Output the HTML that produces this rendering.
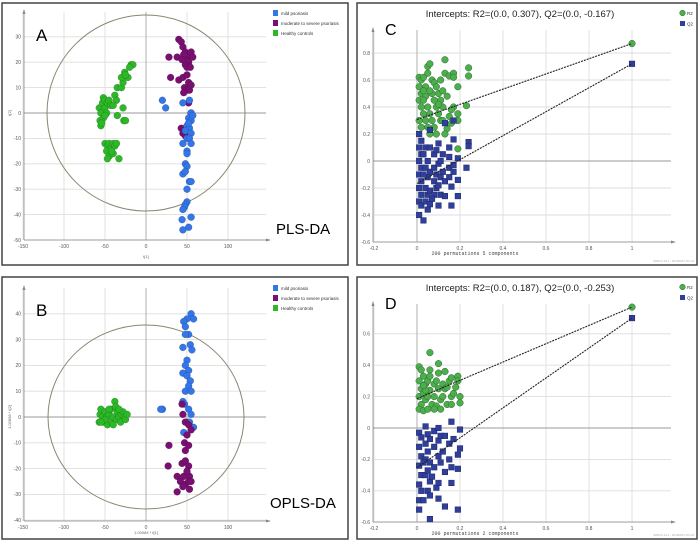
<!DOCTYPE html>
<html><head><meta charset="utf-8"><style>
body{margin:0;background:#fff;width:700px;height:548px;overflow:hidden}
svg{display:block;font-family:"Liberation Sans",sans-serif}
</style></head><body>
<svg id="s" width="700" height="548" viewBox="0 0 700 548"></svg>
<script>
// ===== data =====
const legendA = ["mild psoriasis","moderate to severe psoriasis","Healthy controls"];
const aGreen=[[-57,2],[-55,0],[-56,-3],[-55,-5],[-53,4],[-52,6],[-50,5],[-50,2],[-48,0],[-52,-2],[-54,-4],[-50,-1],[-47,4],[-45,5],[-43,3],[-38,7],[-36,5],[-40,3],[-35,-1],[-28,2],[-27,-3],[-25,-3],[-35,10],[-30,10],[-28,12],[-30,14],[-26,16],[-22,14],[-18,19],[-16,19],[-20,18],[-25,15],[-50,-12],[-47,-13],[-45,-12],[-43,-14],[-40,-12],[-38,-13],[-36,-12],[-48,-15],[-45,-17],[-40,-16],[-47,-18],[-33,-18],[-42,-15]];
const aPurple=[[40,29],[43,28],[45,26],[48,24],[50,22],[53,23],[55,24],[57,22],[52,20],[48,19],[50,18],[54,18],[28,22],[38,22],[30,14],[40,13],[45,14],[50,15],[52,12],[47,10],[50,9],[53,9],[55,11],[46,8],[52,4],[55,0],[43,-6],[45,-8],[48,-9],[46,23],[44,21]];
const aBlue=[[20,5],[24,2],[45,4],[53,5],[55,0],[52,-2],[55,-3],[50,-5],[53,-6],[48,-7],[55,-8],[50,-10],[53,-10],[55,-12],[45,-12],[50,-15],[50,-16],[48,-20],[50,-21],[45,-24],[48,-23],[53,-27],[55,-27],[50,-35],[48,-36],[47,-37],[45,-38],[44,-42],[55,-41],[52,-45],[45,-46],[50,-30],[57,-1],[52,-4]];
const bGreen=[[-57,-2],[-56,1],[-55,3],[-53,0],[-52,-2],[-50,2],[-48,0],[-47,-3],[-45,1],[-43,3],[-42,-2],[-40,0],[-38,6],[-37,4],[-36,-1],[-35,2],[-33,0],[-31,-2],[-30,1],[-28,2],[-26,0],[-25,-1],[-23,1],[-45,3],[-40,-3],[-50,-1],[-33,3],[-55,-2]];
const bBlue=[[55,40],[58,38],[50,38],[46,37],[48,35],[52,32],[48,32],[54,28],[45,27],[56,26],[50,22],[48,20],[52,18],[45,17],[50,16],[54,14],[52,12],[48,10],[55,10],[45,6],[47,5],[20,3],[18,3],[52,3],[55,1],[50,-2],[58,-4],[46,-6],[53,-2]];
const bPurple=[[44,5],[45,1],[48,-2],[52,-3],[55,-5],[50,-7],[47,-10],[52,-11],[28,-11],[48,-13],[44,-18],[48,-17],[52,-19],[27,-19],[50,-22],[53,-23],[46,-23],[38,-23],[42,-25],[48,-26],[52,-25],[55,-25],[45,-27],[38,-29],[50,-21],[53,-28]];
const cR2=[[0.01,0.62],[0.02,0.6],[0.03,0.62],[0.01,0.55],[0.02,0.5],[0.04,0.55],[0.05,0.65],[0.05,0.7],[0.06,0.72],[0.07,0.6],[0.08,0.58],[0.09,0.55],[0.1,0.5],[0.11,0.6],[0.12,0.52],[0.13,0.75],[0.13,0.65],[0.15,0.63],[0.17,0.65],[0.17,0.62],[0.19,0.55],[0.24,0.69],[0.24,0.63],[0.23,0.41],[0.19,0.35],[0.19,0.3],[0.17,0.4],[0.16,0.38],[0.15,0.33],[0.16,0.28],[0.14,0.24],[0.13,0.2],[0.19,0.09],[0.01,0.45],[0.02,0.4],[0.03,0.35],[0.01,0.3],[0.02,0.25],[0.04,0.48],[0.05,0.4],[0.06,0.35],[0.07,0.3],[0.05,0.25],[0.06,0.2],[0.08,0.45],[0.09,0.4],[0.1,0.35],[0.11,0.3],[0.08,0.25],[0.09,0.2],[0.11,0.45],[0.12,0.4],[0.03,0.52],[0.07,0.5],[0.1,0.42],[0.14,0.48],[0.12,0.3],[0.04,0.3],[0.03,0.45],[0.06,0.52],[1,0.87]];
const cQ2=[[0.01,0.2],[0.02,0.15],[0.01,0.1],[0.02,0.05],[0.01,0.0],[0.02,-0.05],[0.01,-0.1],[0.02,-0.15],[0.01,-0.2],[0.02,-0.25],[0.01,-0.3],[0.02,-0.33],[0.01,-0.4],[0.03,-0.44],[0.04,0.1],[0.04,-0.05],[0.04,-0.2],[0.04,-0.3],[0.05,0.0],[0.05,-0.12],[0.05,-0.25],[0.05,-0.36],[0.06,0.23],[0.06,0.1],[0.06,-0.08],[0.06,-0.22],[0.06,-0.32],[0.08,0.05],[0.08,-0.05],[0.08,-0.15],[0.08,-0.25],[0.09,0.08],[0.09,-0.1],[0.09,-0.2],[0.1,0.13],[0.1,-0.02],[0.1,-0.18],[0.1,-0.33],[0.11,0.0],[0.11,-0.12],[0.11,-0.25],[0.12,0.05],[0.12,-0.08],[0.13,0.28],[0.13,-0.15],[0.13,-0.26],[0.15,0.1],[0.15,0.03],[0.15,-0.05],[0.15,-0.12],[0.16,-0.19],[0.16,-0.33],[0.17,0.3],[0.17,0.16],[0.17,-0.03],[0.17,-0.08],[0.19,0.02],[0.19,-0.14],[0.19,-0.26],[0.23,-0.05],[0.24,0.14],[0.24,0.11],[0.03,0.05],[0.03,-0.1],[0.07,-0.28],[1,0.72]];
const dR2=[[0.01,0.39],[0.02,0.37],[0.01,0.3],[0.02,0.25],[0.01,0.2],[0.02,0.15],[0.01,0.12],[0.03,0.33],[0.03,0.22],[0.03,0.11],[0.04,0.28],[0.04,0.18],[0.05,0.3],[0.05,0.2],[0.05,0.12],[0.06,0.48],[0.06,0.37],[0.06,0.33],[0.06,0.24],[0.07,0.15],[0.08,0.28],[0.08,0.2],[0.09,0.3],[0.09,0.14],[0.1,0.41],[0.1,0.35],[0.1,0.25],[0.11,0.18],[0.11,0.12],[0.12,0.28],[0.12,0.2],[0.13,0.36],[0.13,0.25],[0.14,0.15],[0.15,0.3],[0.16,0.32],[0.16,0.2],[0.16,0.15],[0.17,0.22],[0.18,0.26],[0.19,0.33],[0.19,0.3],[0.2,0.2],[0.2,0.16],[0.04,0.24],[0.08,0.12],[0.03,0.27],[0.14,0.26],[1,0.77]];
const dQ2=[[0.01,-0.03],[0.02,-0.06],[0.01,-0.12],[0.02,-0.18],[0.01,-0.24],[0.02,-0.3],[0.01,-0.36],[0.02,-0.4],[0.01,-0.46],[0.01,-0.52],[0.03,-0.46],[0.04,0.01],[0.04,-0.1],[0.04,-0.2],[0.04,-0.3],[0.05,-0.04],[0.05,-0.15],[0.05,-0.27],[0.05,-0.4],[0.06,-0.07],[0.06,-0.22],[0.06,-0.34],[0.06,-0.58],[0.06,-0.43],[0.08,-0.02],[0.08,-0.12],[0.08,-0.25],[0.09,-0.38],[0.1,0.0],[0.1,-0.08],[0.1,-0.18],[0.1,-0.35],[0.1,-0.45],[0.11,-0.05],[0.11,-0.22],[0.12,-0.15],[0.13,-0.05],[0.13,-0.28],[0.13,-0.5],[0.15,-0.1],[0.15,-0.2],[0.16,0.04],[0.16,-0.25],[0.16,-0.35],[0.17,-0.07],[0.19,-0.17],[0.19,-0.26],[0.19,-0.52],[0.2,-0.01],[0.2,-0.13],[0.03,-0.22],[0.07,-0.31],[1,0.70]];
const cIntercepts=[0.307,-0.167];
const dIntercepts=[0.187,-0.253];
const pcaXTicks=[-150,-100,-50,0,50,100];
const aYTicks=[-50,-40,-30,-20,-10,0,10,20,30];
const bYTicks=[-40,-30,-20,-10,0,10,20,30,40];
const permXTicks=[-0.2,0,0.2,0.4,0.6,0.8,1];
const cYTicks=[-0.6,-0.4,-0.2,0,0.2,0.4,0.6,0.8];
const dYTicks=[-0.6,-0.4,-0.2,0,0.2,0.4,0.6];

const NS="http://www.w3.org/2000/svg";
const svg=document.getElementById('s');
function mk(tag,attrs,parent,text){const e=document.createElementNS(NS,tag);for(const k in attrs)e.setAttribute(k,attrs[k]);if(text!==undefined)e.textContent=text;(parent||svg).appendChild(e);return e;}

function panel(o){
  const g=mk('g',{});
  
  
  mk('rect',{x:o.bx,y:o.by,width:o.bw,height:o.bh,fill:'#fff',stroke:'#444','stroke-width':1.5},g);
  const X=v=>o.x0+(v-o.xv0)*o.xs, Y=v=>o.y0-(v-o.yv0)*o.ys;
  o.yt.forEach(t=>{mk('line',{x1:o.left,x2:o.right,y1:Y(t),y2:Y(t),stroke:'#dedede','stroke-width':0.9},g);
    const tl=mk('text',{x:o.left-3,y:Y(t)+1.8,'font-size':5,fill:'#555','text-anchor':'end'},g,String(t));
    });
  o.xt.forEach(t=>{mk('line',{x1:X(t),x2:X(t),y1:o.top,y2:o.bottom,stroke:'#dedede','stroke-width':0.9},g);
    const tl=mk('text',{x:X(t),y:o.bottom+8,'font-size':5,fill:'#555','text-anchor':'middle'},g,String(t));
    });
  mk('line',{x1:o.left,x2:o.right,y1:Y(0),y2:Y(0),stroke:'#999','stroke-width':1},g);
  mk('line',{x1:X(0),x2:X(0),y1:o.top,y2:o.bottom,stroke:'#aaa','stroke-width':0.9},g);
  mk('line',{x1:o.left,x2:o.left,y1:o.top-2,y2:o.bottom,stroke:'#888','stroke-width':0.8},g);
  mk('line',{x1:o.left,x2:o.right+3,y1:o.bottom,y2:o.bottom,stroke:'#888','stroke-width':0.8},g);
  mk('path',{d:`M${o.left-1.5},${o.top+2}L${o.left},${o.top-3}L${o.left+1.5},${o.top+2}Z`,fill:'#888'},g);
  mk('path',{d:`M${o.right},${o.bottom-1.5}L${o.right+5},${o.bottom}L${o.right},${o.bottom+1.5}Z`,fill:'#888'},g);
  return {g,X,Y};
}
function dots(p,data,color,r,shape,name){
  data.forEach(d=>{let e;
    if(shape==='sq') e=mk('rect',{x:p.X(d[0])-r,y:p.Y(d[1])-r,width:2*r,height:2*r,fill:color,stroke:'#1c2466','stroke-width':0.5},p.g);
    else e=mk('circle',{cx:p.X(d[0]),cy:p.Y(d[1]),r:r,fill:color,stroke:shape==='dk'?'#2d6a2d':'rgba(0,0,0,0.25)','stroke-width':0.5},p.g);
    
    });
}
function legend(g,x,y,items){
  items.forEach((it,i)=>{mk('rect',{x:x,y:y+i*10-3,width:5,height:6,fill:it[1]},g);
    const t=mk('text',{x:x+8,y:y+i*10+2,'font-size':4.5,fill:'#333'},g,it[0]);
    });
}
function legend2(g,x,y){
  mk('circle',{cx:x+2.5,cy:y,r:2.8,fill:'#4cae4c',stroke:'#2d6a2d','stroke-width':0.5},g);
  mk('rect',{x:x,y:y+8,width:5,height:5,fill:'#2f3f9c'},g);
  const t1=mk('text',{x:x+7,y:y+2,'font-size':4.5,fill:'#333'},g,'R2');
  
  const t2=mk('text',{x:x+7,y:y+12.5,'font-size':4.5,fill:'#333'},g,'Q2');
  
}
const BLUE='#3475e8',PURP='#7a0f72',GRN='#2cb827';

let pA=panel({name:'panel-a-pls-da',bx:2,by:3,bw:346,bh:262,x0:146,xv0:0,xs:0.82,y0:113,yv0:0,ys:2.54,left:24,right:266,top:12,bottom:240,xt:pcaXTicks,yt:aYTicks});
mk('ellipse',{cx:pA.X(0),cy:pA.Y(0),rx:99,ry:98,fill:'none',stroke:'#8a8670','stroke-width':1},pA.g);
dots(pA,aGreen,GRN,3.5,'c','healthy-point');dots(pA,aPurple,PURP,3.5,'c','moderate-point');dots(pA,aBlue,BLUE,3.5,'c','mild-point');
legend(pA.g,273,13,[[legendA[0],BLUE],[legendA[1],PURP],[legendA[2],GRN]]);
mk('text',{x:36,y:41,'font-size':17,fill:'#000'},pA.g,'A');
mk('text',{x:276,y:234,'font-size':15,fill:'#000'},pA.g,'PLS-DA');
mk('text',{x:146,y:258,'font-size':4,fill:'#666','text-anchor':'middle'},pA.g,'t[1]');
mk('text',{x:11,y:113,'font-size':4,fill:'#666','text-anchor':'middle',transform:'rotate(-90 11 113)'},pA.g,'t[2]');

let pB=panel({name:'panel-b-opls-da',bx:2,by:277,bw:346,bh:262,x0:146,xv0:0,xs:0.82,y0:417,yv0:0,ys:2.58,left:24,right:266,top:288,bottom:521,xt:pcaXTicks,yt:bYTicks});
mk('ellipse',{cx:pB.X(0),cy:pB.Y(0),rx:98,ry:92,fill:'none',stroke:'#8a8670','stroke-width':1},pB.g);
dots(pB,bGreen,GRN,3.5,'c','healthy-point');dots(pB,bBlue,BLUE,3.5,'c','mild-point');dots(pB,bPurple,PURP,3.5,'c','moderate-point');
legend(pB.g,273,288,[[legendA[0],BLUE],[legendA[1],PURP],[legendA[2],GRN]]);
mk('text',{x:36,y:316,'font-size':17,fill:'#000'},pB.g,'B');
mk('text',{x:270,y:508,'font-size':15,fill:'#000'},pB.g,'OPLS-DA');
mk('text',{x:146,y:534,'font-size':4,fill:'#666','text-anchor':'middle'},pB.g,'1.00084 * t[1]');
mk('text',{x:11,y:417,'font-size':4,fill:'#666','text-anchor':'middle',transform:'rotate(-90 11 417)'},pB.g,'1.02898 * t[2]');

function perm(o,R2,Q2,ints,title,letter,sub){
  const p=panel(o);
  dots(p,R2,'#4cae4c',3.3,'dk','r2-point');dots(p,Q2,'#2f3f9c',2.8,'sq','q2-point');
  const r2l=mk('line',{x1:p.X(0),y1:p.Y(ints[0]),x2:p.X(R2[R2.length-1][0]),y2:p.Y(R2[R2.length-1][1]),stroke:'#222','stroke-width':1.1,'stroke-dasharray':'2,1'},p.g);
  
  const q2l=mk('line',{x1:p.X(0),y1:p.Y(ints[1]),x2:p.X(Q2[Q2.length-1][0]),y2:p.Y(Q2[Q2.length-1][1]),stroke:'#222','stroke-width':1.1,'stroke-dasharray':'2,1'},p.g);
  
  const t=mk('text',{x:520,y:o.by+14,'font-size':9.5,fill:'#222','text-anchor':'middle'},p.g,title);
  
  mk('text',{x:385,y:o.by+32,'font-size':16,fill:'#000'},p.g,letter);
  mk('text',{x:475,y:o.bottom+13,'font-size':5,fill:'#444','text-anchor':'middle','font-family':'Liberation Mono'},p.g,sub);
  mk('text',{x:694,y:o.by+o.bh-3,'font-size':3,fill:'#aaa','text-anchor':'end'},p.g,'SIMCA 14.1 - 2016/6/6 UTC+8');
  legend2(p.g,680,o.by+10);
}
perm({name:'panel-c-permutation',bx:357,by:3,bw:340,bh:262,x0:417,xv0:0,xs:215,y0:161,yv0:0,ys:135,left:373,right:671,top:30,bottom:242,xt:permXTicks,yt:cYTicks},cR2,cQ2,cIntercepts,'Intercepts: R2=(0.0, 0.307), Q2=(0.0, -0.167)','C','200 permutations 5 components');
perm({name:'panel-d-permutation',bx:357,by:277,bw:340,bh:262,x0:417,xv0:0,xs:215,y0:428,yv0:0,ys:157,left:373,right:671,top:304,bottom:522,xt:permXTicks,yt:dYTicks},dR2,dQ2,dIntercepts,'Intercepts: R2=(0.0, 0.187), Q2=(0.0, -0.253)','D','200 permutations 2 components');
</script>
</body></html>
